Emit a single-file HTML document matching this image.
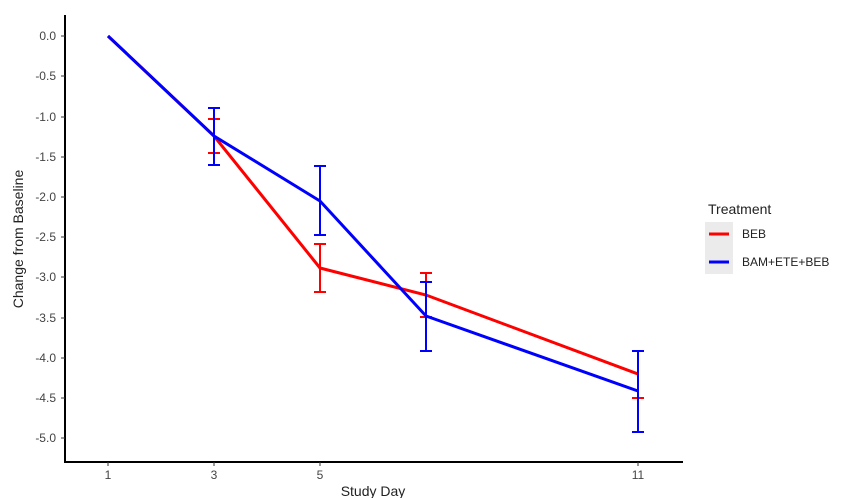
<!DOCTYPE html>
<html><head><style>body{margin:0;background:#fff}svg{display:block}</style></head><body>
<svg width="850" height="498" xmlns="http://www.w3.org/2000/svg" font-family="Liberation Sans, sans-serif">
<rect width="850" height="498" fill="#fff"/>
<g stroke="#000" stroke-width="2"><line x1="65" y1="15" x2="65" y2="463"/><line x1="64" y1="462" x2="683" y2="462"/></g>
<g fill="#444" font-size="12" text-anchor="end">
<text x="56" y="40">0.0</text><text x="56" y="80">-0.5</text><text x="56" y="121">-1.0</text><text x="56" y="161">-1.5</text><text x="56" y="201">-2.0</text><text x="56" y="241">-2.5</text><text x="56" y="281">-3.0</text><text x="56" y="322">-3.5</text><text x="56" y="362">-4.0</text><text x="56" y="402">-4.5</text><text x="56" y="442">-5.0</text></g>
<g stroke="#333" stroke-width="1"><line x1="61" x2="65" y1="36" y2="36"/><line x1="61" x2="65" y1="76" y2="76"/><line x1="61" x2="65" y1="117" y2="117"/><line x1="61" x2="65" y1="157" y2="157"/><line x1="61" x2="65" y1="197" y2="197"/><line x1="61" x2="65" y1="237" y2="237"/><line x1="61" x2="65" y1="277" y2="277"/><line x1="61" x2="65" y1="318" y2="318"/><line x1="61" x2="65" y1="358" y2="358"/><line x1="61" x2="65" y1="398" y2="398"/><line x1="61" x2="65" y1="438" y2="438"/>
<line x1="108" x2="108" y1="462" y2="466"/><line x1="214" x2="214" y1="462" y2="466"/><line x1="320" x2="320" y1="462" y2="466"/><line x1="638" x2="638" y1="462" y2="466"/></g>
<g fill="#444" font-size="12" text-anchor="middle"><text x="108" y="479">1</text><text x="214" y="479">3</text><text x="320" y="479">5</text><text x="638" y="479">11</text></g>
<text x="373" y="496" font-size="14" fill="#222" text-anchor="middle">Study Day</text>
<text transform="translate(23,239) rotate(-90)" font-size="14" fill="#222" text-anchor="middle">Change from Baseline</text>
<!-- red -->
<g stroke="#f00" stroke-width="2" fill="none">
<path d="M214 119V153M208 119H220M208 153H220"/>
<path d="M320 244V292M314 244H326M314 292H326"/>
<path d="M426 273V317M420 273H432M420 317H432"/>
<path d="M632 398H644"/>
<polyline stroke-width="3" points="108,36 214,136 320,268 426,295 638,374"/></g>
<!-- blue -->
<g stroke="#00f" stroke-width="2" fill="none">
<path d="M214 108V165M208 108H220M208 165H220"/>
<path d="M320 166V235M314 166H326M314 235H326"/>
<path d="M426 282V351M420 282H432M420 351H432"/>
<path d="M638 351V432M632 351H644M632 432H644"/>
<polyline stroke-width="3" points="108,36 214,136 320,201 426,316 638,391"/></g>
<text x="708" y="214" font-size="14" fill="#222">Treatment</text>
<rect x="705" y="222" width="28" height="52" fill="#ebebeb"/>
<line x1="709" x2="729" y1="234" y2="234" stroke="#f00" stroke-width="3"/>
<line x1="709" x2="729" y1="262" y2="262" stroke="#00f" stroke-width="3"/>
<g font-size="12" fill="#222"><text x="742" y="238">BEB</text><text x="742" y="266">BAM+ETE+BEB</text></g>
</svg>
</body></html>
